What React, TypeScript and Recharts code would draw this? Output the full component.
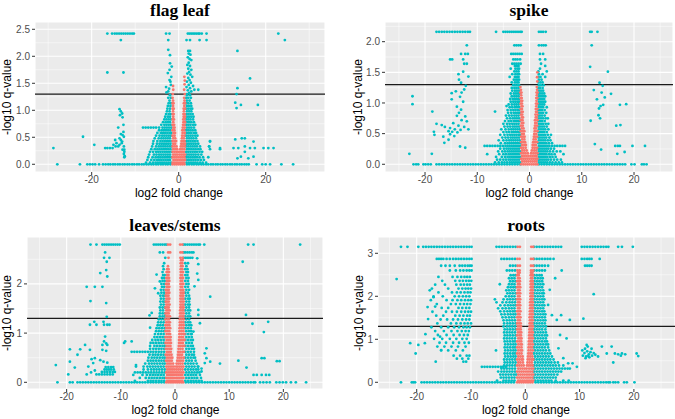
import { ScatterChart, Scatter, XAxis, YAxis, CartesianGrid, ReferenceLine } from 'recharts';

const TEAL = '#00BFC4';
const SALMON = '#F8766D';

// rows are [y, x1, x2, ...]; dots are [x, y]
type Row = number[];
type Dot = [number, number];

// ---------- flag leaf ----------
const flagTealRows: Row[] = [
  [0, -27.9, -22.7, -21.0, -20.4, -19.8, -19.2, -18.3, -17.4, -16.8, -16.2, -15.7, -15.1, -14.6, -14.0, -13.5, -12.9, -12.4, -11.8, -11.3, -10.7, -10.2, -9.6, -9.1, -8.5, -8.0, -7.4, -6.9, -6.3, -5.8, -5.2, -4.7, -4.1, -3.6, -3.0, -2.5, -1.9, 1.9, 2.4, 3.0, 3.5, 4.1, 4.6, 5.2, 5.7, 6.3, 6.8, 7.4, 7.9, 8.5, 9.0, 9.6, 10.1, 10.7, 11.2, 11.8, 12.3, 12.9, 13.4, 14.0, 14.5, 15.1, 15.6, 16.1, 17.9, 19.2, 20.0, 21.0, 23.6, 26.3],
  [2.42, -16.4, -15.3, -14.7, -14.2, -13.7, -13.2, -12.7, -12.2, -11.7, -11.2, -10.7, -10.3, -2.9, -2.1, 2.1, 2.5, 2.9, 3.3, 3.7, 4.1, 4.5, 4.8, 5.3, 6.4, 22.9],
  [2.30, -13.3, -2.4, 1.8, 2.6, 4.8, 6.4, 24.4],
  [1.70, -16.4, -12.7],
  [0.03, -7.5, -6.6, -5.9, -5.3, -4.8, -4.3, -3.8, -3.3, -2.8, -2.3, -1.8, 1.8, 2.3, 2.8, 3.3, 3.8, 4.3, 4.9, 5.5, 6.3],
  [0.08, -7.2, -6.3, -5.6, -5.0, -4.5, -4.0, -3.5, -3.0, -2.5, -2.0, 1.9, 2.4, 2.9, 3.4, 3.9, 4.5, 5.1, 5.8],
  [0.13, -7.0, -6.0, -5.3, -4.7, -4.2, -3.7, -3.2, -2.7, -2.2, -1.7, 1.7, 2.2, 2.7, 3.2, 3.7, 4.2, 4.8, 5.6, 6.8],
  [0.18, -6.8, -5.7, -5.1, -4.5, -4.0, -3.5, -3.0, -2.5, -2.0, 1.9, 2.4, 2.9, 3.4, 3.9, 4.5, 5.2],
  [0.23, -6.6, -5.9, -5.2, -4.7, -4.2, -3.7, -3.2, -2.7, -2.2, -1.7, 1.7, 2.2, 2.7, 3.2, 3.7, 4.2, 4.8, 5.4],
  [0.28, -6.3, -5.5, -4.9, -4.4, -3.9, -3.4, -2.9, -2.4, -1.9, 1.9, 2.4, 2.9, 3.4, 3.9, 4.5, 5.0, 7.2, 9.5],
  [0.33, -6.1, -5.2, -4.6, -4.1, -3.6, -3.1, -2.6, -2.1, -1.7, 1.7, 2.2, 2.7, 3.2, 3.7, 4.2, 4.9, 7.0],
  [0.38, -5.9, -5.0, -4.4, -3.9, -3.4, -2.9, -2.4, -1.9, 1.9, 2.4, 2.9, 3.4, 3.9, 4.5],
  [0.43, -5.8, -4.9, -4.2, -3.7, -3.2, -2.7, -2.2, -1.7, 1.7, 2.2, 2.7, 3.2, 3.7, 4.3, 7.2],
  [0.48, -5.5, -4.6, -4.0, -3.5, -3.0, -2.5, -2.0, 1.9, 2.4, 2.9, 3.4, 4.0],
  [0.53, -5.2, -4.4, -3.8, -3.3, -2.8, -2.3, -1.8, 1.7, 2.2, 2.7, 3.2, 3.8, 4.3],
  [0.58, -4.9, -4.1, -3.6, -3.1, -2.6, -2.1, -1.7, 1.9, 2.4, 2.9, 3.5, 4.0],
  [0.63, -4.5, -3.9, -3.4, -2.9, -2.4, -1.9, 1.7, 2.2, 2.7, 3.2, 3.8],
  [0.68, -8.2, -7.6, -7.0, -6.4, -5.8, -5.2, -4.5, -3.7, -3.2, -2.7, -2.2, -1.7, 1.9, 2.4, 2.9, 3.5],
  [0.73, -4.0, -3.3, -2.8, -2.3, -1.8, 1.7, 2.2, 2.7, 3.3, 3.8],
  [0.78, -3.6, -3.0, -2.5, -2.0, 1.9, 2.4, 2.9, 3.5],
  [0.83, -3.3, -2.8, -2.3, -1.8, 1.7, 2.2, 2.7, 3.3],
  [0.88, -3.1, -2.5, -2.0, 1.9, 2.4, 2.9, 3.4],
  [0.93, -2.9, -2.3, -1.8, 1.7, 2.2, 2.7, 3.2],
  [0.98, -2.7, -2.1, 1.9, 2.4, 2.9],
  [1.03, -2.6, -2.0, 1.7, 2.2, 2.7, 3.1],
  [1.08, -2.5, -1.9, 1.9, 2.4, 2.9],
  [1.13, -2.3, -1.8, 1.7, 2.2, 2.8],
  [1.18, -2.1, 1.9, 2.5],
  [1.23, -2.4, -1.8, 1.7, 2.2, 2.8],
  [1.28, -2.0, 1.9, 2.6],
];
const flagTealDots: Dot[] = [
  [-13.6, 1.02], [-13.3, 0.98], [-13.0, 0.94], [-13.5, 0.91], [-12.9, 0.87], [-12.7, 0.73], [-13.9, 0.68], [-12.7, 0.6],
  [-13.3, 0.56], [-12.9, 0.54], [-12.6, 0.51], [-13.6, 0.48], [-14.6, 0.45], [-13.3, 0.45], [-13.0, 0.42], [-14.3, 0.39],
  [-13.1, 0.39], [-13.6, 0.36], [-15.0, 0.36], [-12.6, 0.33], [-13.9, 0.33], [-14.5, 0.33], [-15.2, 0.3], [-15.8, 0.3],
  [-16.4, 0.3], [-16.9, 0.3], [-12.9, 0.27], [-12.5, 0.27], [-12.5, 0.23], [-12.6, 0.19], [-12.4, 0.15], [-12.5, 0.13],
  [-22.0, 0.51], [-28.8, 0.3], [-19.4, 0.36],
  [-2.4, 2.12], [-2.0, 2.02], [-2.0, 1.87], [-2.1, 1.75], [-1.6, 1.81], [-2.5, 1.69], [-1.7, 1.62], [-2.1, 1.56],
  [-1.9, 1.53], [-1.8, 1.47], [-2.9, 1.43], [-2.2, 1.4], [-2.4, 1.35], [-2.8, 1.33],
  [2.2, 2.1], [2.6, 2.1], [2.3, 2.05], [2.7, 2.03], [2.1, 1.98], [2.5, 1.95], [2.9, 1.93], [2.3, 1.88], [2.0, 1.84],
  [2.6, 1.82], [2.2, 1.77], [2.9, 1.75], [2.4, 1.71], [2.0, 1.68], [2.7, 1.66], [3.1, 1.62], [2.2, 1.6], [2.5, 1.56],
  [1.9, 1.53], [2.8, 1.51], [2.3, 1.47], [3.3, 1.45], [1.8, 1.43], [2.6, 1.41], [2.1, 1.37], [2.9, 1.35], [2.4, 1.32],
  [3.6, 1.38], [4.5, 1.38], [1.9, 1.3],
  [13.5, 2.1], [16.4, 1.59], [13.5, 1.41], [13.3, 1.3], [13.0, 1.14], [14.3, 1.1], [13.3, 1.04], [18.2, 1.1],
  [13.0, 0.46], [14.5, 0.48], [15.2, 0.48], [17.2, 0.42], [12.6, 0.3], [13.7, 0.3], [15.2, 0.33], [16.4, 0.3],
  [17.5, 0.3], [19.5, 0.3], [20.6, 0.3], [21.8, 0.3], [13.5, 0.11], [14.3, 0.14], [16.0, 0.11], [17.2, 0.14],
  [15.2, 0.23], [9.5, 0.3], [7.2, 0.42], [7.0, 0.33],
];
const flagRedRows: Row[] = [
  [0, -1.4, -0.95, -0.5, -0.05, 0.4, 0.85, 1.3],
  [0.03, -1.4, -1.0, -0.55, -0.1, 0.35, 0.8, 1.25],
  [0.08, -1.2, -0.75, -0.3, 0.15, 0.6, 1.05, 1.45],
  [0.13, -1.4, -0.95, -0.5, -0.05, 0.4, 0.85, 1.3],
  [0.18, -1.25, -0.8, -0.35, 0.15, 0.6, 1.05, 1.45],
  [0.23, -1.4, -0.95, -0.5, -0.1, 0.3, 0.75, 1.2],
  [0.28, -1.25, -0.8, -0.35, 0.35, 0.8, 1.3],
  [0.33, -1.4, -0.95, -0.5, 0.5, 0.95, 1.4],
  [0.38, -1.25, -0.8, 0.6, 1.05, 1.45],
  [0.43, -1.4, -0.95, -0.6, 0.65, 1.0, 1.35],
  [0.48, -1.25, -0.8, 0.75, 1.2],
  [0.53, -1.4, -0.95, 0.8, 1.3],
  [0.58, -1.2, -0.85, 0.9, 1.4],
  [0.63, -1.4, -1.0, 0.85, 1.25],
  [0.68, -1.25, -0.95, 0.95, 1.4],
  [0.73, -1.4, -1.05, 1.0, 1.35],
  [0.78, -1.25, 1.1, 1.45],
  [0.83, -1.4, -1.1, 1.05, 1.35],
  [0.88, -1.25, 1.15, 1.45],
  [0.93, -1.4, -1.15, 1.1, 1.4],
  [0.98, -1.3, 1.2],
  [1.03, -1.4, -1.15, 1.15, 1.45],
  [1.08, -1.3, 1.3],
  [1.13, -1.4, -1.2, 1.2, 1.45],
  [1.18, -1.3, 1.35],
  [1.23, -1.4, 1.25],
  [1.3, -1.35, 1.4],
];
const flagRedDots: Dot[] = [[-1.3, 1.45], [-1.25, 1.38], [1.3, 1.62], [1.4, 1.55], [1.35, 1.48], [1.25, 1.38]];

// ---------- spike ----------
const spikeTealRows: Row[] = [
  [0, -22.2, -21.7, -21.3, -20.3, -19.9, -19.4, -18.9, -17.8, -17.3, -16.8, -16.3, -15.8, -15.3, -14.8, -14.3, -13.8, -13.3, -12.8, -12.3, -11.8, -11.3, -10.8, -10.3, -9.8, -9.3, -8.8, -8.3, -7.8, -7.3, -6.8, -6.3, -5.8, -5.3, -4.8, -4.3, -3.8, -3.3, -2.8, -2.3, -1.8, 1.8, 2.3, 2.8, 3.3, 3.8, 4.3, 4.8, 5.3, 5.8, 6.3, 6.8, 7.3, 7.8, 8.3, 8.8, 9.3, 9.8, 10.3, 10.8, 11.3, 11.8, 12.3, 12.8, 13.3, 13.8, 14.3, 14.8, 15.3, 15.8, 16.3, 16.8, 17.3, 17.8, 18.3, 19.5, 20.1, 21.5, 21.9, 22.4],
  [2.16, -17.8, -17.3, -16.8, -16.3, -15.8, -15.3, -14.8, -14.3, -13.8, -13.3, -12.8, -12.3, -11.8, -11.4, -6.4, -5.0, -4.6, -4.2, -3.8, -3.4, -3.0, -2.6, -2.2, -1.8, -1.5, 1.8, 2.2, 2.6, 3.1, 11.6, 11.9, 13.0],
  [1.94, -12.0, -2.9, -2.5, -2.1, -1.7, 1.8, 2.3, 2.7, 3.1, 11.9],
  [1.8, -13.1, -12.3, -11.8, -3.5, -3.1, -2.7, -2.3, -1.9, -1.5, 2.0, 2.6],
  [1.71, -15.2, -14.8, -12.7, -3.1, -2.7, -2.3, -1.8, 2.0, 3.0],
  [1.64, -12.5, -12.0, -3.3, -2.9, -2.5, -2.1, -1.7, 2.2],
  [0.03, -6.6, -5.9, -5.3, -4.8, -4.3, -3.8, -3.4, -3.0, -2.6, -2.2, -1.8, 1.8, 2.2, 2.6, 3.0, 3.4, 3.9, 4.4, 5.0, 5.6, 6.2],
  [0.075, -6.2, -5.6, -5.0, -4.5, -4.0, -3.6, -3.2, -2.8, -2.4, -2.0, 1.7, 2.0, 2.4, 2.8, 3.2, 3.6, 4.1, 4.7, 5.3, 6.0],
  [0.12, -6.4, -5.3, -4.7, -4.2, -3.8, -3.4, -3.0, -2.6, -2.2, -1.8, 1.8, 2.2, 2.6, 3.0, 3.4, 3.9, 4.4, 5.0],
  [0.165, -8.1, -5.8, -5.0, -4.5, -4.0, -3.6, -3.2, -2.8, -2.4, -2.0, 1.7, 2.0, 2.4, 2.8, 3.2, 3.7, 4.2, 4.8, 6.5],
  [0.21, -6.0, -5.2, -4.7, -4.2, -3.8, -3.4, -3.0, -2.6, -2.2, -1.8, 1.8, 2.2, 2.6, 3.0, 3.4, 3.9, 4.5, 5.2, 5.9],
  [0.255, -5.6, -4.9, -4.4, -4.0, -3.6, -3.2, -2.8, -2.4, -2.0, 1.7, 2.0, 2.4, 2.8, 3.2, 3.6, 4.1, 4.7],
  [0.3, -8.6, -8.1, -7.6, -7.1, -6.6, -6.1, -5.6, -5.1, -4.6, -4.2, -3.8, -3.4, -3.0, -2.6, -2.2, -1.8, 1.8, 2.2, 2.6, 3.0, 3.4, 3.8, 4.3, 4.8, 5.3, 5.8, 6.3, 6.8],
  [0.345, -5.5, -4.7, -4.2, -3.8, -3.4, -3.0, -2.6, -2.2, -1.8, 1.7, 2.0, 2.4, 2.8, 3.2, 3.7, 4.3],
  [0.39, -5.9, -5.0, -4.4, -3.9, -3.5, -3.1, -2.7, -2.3, -1.9, 1.8, 2.2, 2.6, 3.0, 3.5, 4.0],
  [0.435, -5.2, -4.6, -4.1, -3.6, -3.2, -2.8, -2.4, -2.0, 1.7, 2.0, 2.4, 2.8, 3.2, 3.8],
  [0.48, -5.6, -4.8, -4.2, -3.7, -3.3, -2.9, -2.5, -2.1, -1.8, 1.8, 2.2, 2.6, 3.0, 3.5, 4.1],
  [0.525, -5.0, -4.4, -3.9, -3.4, -3.0, -2.6, -2.2, -1.9, 1.7, 2.0, 2.4, 2.8, 3.3],
  [0.57, -5.4, -4.6, -4.0, -3.5, -3.1, -2.7, -2.3, -1.9, 1.8, 2.2, 2.6, 3.0, 3.6],
  [0.615, -4.8, -4.2, -3.7, -3.2, -2.8, -2.4, -2.0, 1.7, 2.0, 2.4, 2.8, 3.3],
  [0.66, -5.0, -4.3, -3.8, -3.3, -2.9, -2.5, -2.1, 1.8, 2.2, 2.6, 3.1, 3.6],
  [0.705, -4.7, -4.0, -3.5, -3.0, -2.6, -2.2, -1.9, 1.7, 2.0, 2.4, 2.9],
  [0.75, -4.3, -3.7, -3.2, -2.8, -2.4, -2.0, 1.8, 2.2, 2.6, 3.1, 3.5],
  [0.795, -4.5, -3.9, -3.4, -2.9, -2.5, -2.1, 1.7, 2.0, 2.4, 2.9],
  [0.84, -4.1, -3.5, -3.0, -2.6, -2.2, -1.9, 1.8, 2.2, 2.6, 3.2],
  [0.885, -4.2, -3.6, -3.1, -2.7, -2.3, -2.0, 1.7, 2.0, 2.4, 2.9],
  [0.93, -3.8, -3.3, -2.8, -2.4, -2.0, 1.8, 2.2, 2.6, 3.3],
  [0.975, -4.0, -3.4, -2.9, -2.5, -2.1, 1.7, 2.0, 2.4, 2.8],
  [1.02, -3.6, -3.1, -2.7, -2.3, -2.0, 1.8, 2.2, 2.6, 3.0],
  [1.065, -3.7, -3.2, -2.8, -2.4, -2.0, 1.7, 2.0, 2.4, 2.8],
  [1.11, -3.4, -2.9, -2.5, -2.1, 1.8, 2.2, 2.6, 3.0],
  [1.155, -3.6, -3.0, -2.6, -2.2, -1.9, 1.7, 2.0, 2.4, 2.8],
  [1.2, -3.3, -2.8, -2.4, -2.0, 1.8, 2.2, 2.6],
  [1.245, -3.4, -2.9, -2.5, -2.1, 1.7, 2.0, 2.5],
  [1.29, -3.1, -2.7, -2.3, -2.0, 1.8, 2.2, 2.7],
  [1.335, -3.4, -2.8, -2.4, -2.1, 1.7, 2.1, 2.5],
  [1.38, -3.0, -2.6, -2.3, -2.0, 1.8, 2.3],
  [1.425, -3.8, -2.8, -2.4, -2.1, 1.7, 2.1, 3.0],
  [1.47, -3.3, -2.7, -2.3, -2.0, 1.8, 2.5],
  [1.515, -2.9, -2.5, -2.1, 1.7, 3.3],
  [1.56, -3.6, -2.7, -2.3, -2.0, 2.0],
  [1.605, -2.8, -2.4, -2.1, 3.0],
];
const spikeTealDots: Dot[] = [
  [-12.7, 1.51], [-13.6, 1.47], [-11.7, 1.43], [-13.5, 1.38], [-13.1, 1.33], [-12.2, 1.28], [-12.5, 1.22], [-14.1, 1.19],
  [-13.0, 1.17], [-14.9, 1.16], [-13.3, 1.1], [-14.9, 1.06], [-12.7, 1.02], [-13.9, 0.94], [-13.1, 0.89], [-13.5, 0.84],
  [-13.9, 0.79], [-12.3, 0.78], [-13.0, 0.72], [-12.0, 0.7], [-14.6, 0.67], [-13.6, 0.63], [-12.5, 0.61], [-15.2, 0.59],
  [-14.3, 0.57], [-13.2, 0.56], [-15.5, 0.54], [-14.8, 0.53], [-13.8, 0.52], [-15.2, 0.49], [-14.4, 0.46], [-16.2, 0.61],
  [-16.8, 0.64], [-17.8, 0.66], [-18.3, 0.53], [-18.2, 0.48], [-16.5, 0.45], [-15.5, 0.4], [-16.3, 0.35], [-13.3, 0.29],
  [-12.3, 0.27], [-11.7, 0.57], [-18.6, 0.86], [-22.4, 1.11], [-22.4, 0.98], [-23.0, 0.17], [-18.7, 0.17],
  [-6.6, 0.86], [-4.4, 0.95],
  [11.6, 1.59], [15.0, 1.51], [13.4, 1.33], [14.0, 1.28], [12.3, 1.21], [13.8, 1.17], [15.6, 1.15], [12.9, 1.06],
  [14.4, 1.09], [13.6, 0.95], [14.1, 0.97], [13.3, 0.91], [13.2, 0.8], [13.5, 0.75], [11.7, 0.71], [17.3, 0.97],
  [18.5, 0.98], [16.6, 0.63], [17.4, 0.64], [12.5, 0.33], [13.7, 0.24], [16.4, 0.3], [16.9, 0.3], [17.3, 0.3],
  [16.8, 0.17], [18.2, 0.2], [19.7, 0.3], [22.1, 0.3],
];
const spikeRedRows: Row[] = [
  [0, -1.6, -1.2, -0.8, -0.4, 0.0, 0.4, 0.8, 1.2, 1.5],
  [0.045, -1.4, -1.0, -0.6, -0.2, 0.2, 0.6, 1.0, 1.35],
  [0.09, -1.6, -1.2, -0.8, -0.4, 0.0, 0.4, 0.8, 1.2, 1.5],
  [0.135, -1.4, -1.0, -0.6, -0.2, 0.2, 0.6, 1.0, 1.35],
  [0.18, -1.6, -1.2, -0.8, -0.35, 0.3, 0.75, 1.15, 1.5],
  [0.225, -1.4, -1.0, -0.55, 0.45, 0.9, 1.3],
  [0.27, -1.6, -1.2, -0.75, 0.6, 1.0, 1.45],
  [0.315, -1.4, -1.0, -0.7, 0.6, 0.85, 1.2],
  [0.36, -1.6, -1.2, -0.85, 0.7, 1.05, 1.45],
  [0.405, -1.4, -1.0, 0.8, 1.2],
  [0.45, -1.6, -1.25, -0.95, 0.85, 1.1, 1.45],
  [0.495, -1.45, -1.1, 0.9, 1.3],
  [0.54, -1.65, -1.3, -1.0, 1.0, 1.5],
  [0.585, -1.5, -1.15, 0.95, 1.25],
  [0.63, -1.65, -1.3, 1.05, 1.45],
  [0.675, -1.5, -1.2, 1.1, 1.35],
  [0.72, -1.65, -1.35, 1.05, 1.5],
  [0.765, -1.5, -1.25, 1.2, 1.4],
  [0.81, -1.65, -1.4, 1.15, 1.5],
  [0.855, -1.55, -1.3, 1.25, 1.45],
  [0.9, -1.7, -1.45, 1.2, 1.5],
  [0.945, -1.55, -1.35, 1.3],
  [0.99, -1.7, -1.45, 1.25, 1.5],
  [1.035, -1.6, -1.4, 1.35],
  [1.08, -1.7, -1.5, 1.3, 1.5],
  [1.125, -1.6, 1.4],
  [1.17, -1.75, -1.55, 1.35, 1.55],
  [1.215, -1.65, 1.45],
  [1.26, -1.75, 1.4],
  [1.35, 1.5],
  [1.42, 1.45],
  [1.5, 1.5],
];

// ---------- leaves/stems ----------
const stemTealRows: Row[] = [
  [0, -21.7, -19.4, -18.9, -18.0, -17.5, -17.0, -16.5, -16.0, -15.5, -15.0, -14.5, -14.0, -13.5, -13.0, -12.5, -12.0, -11.5, -11.0, -10.5, -10.0, -9.5, -9.0, -8.5, -8.0, -7.5, -7.0, -6.5, -6.0, -5.5, -5.0, -4.5, -4.0, -3.5, -3.0, -2.5, -2.0, 2.0, 2.5, 3.0, 3.5, 4.0, 4.5, 5.0, 5.5, 6.0, 6.5, 7.0, 7.5, 8.0, 8.5, 9.0, 9.5, 10.0, 10.5, 11.0, 11.5, 12.0, 12.5, 13.0, 13.5, 14.0, 14.5, 14.8, 15.7, 16.3, 16.9, 17.5, 18.7, 19.3, 19.9, 20.5, 21.4, 22.3, 24.2],
  [2.8, -15.6, -14.5, -13.4, -13.0, -12.6, -12.2, -11.8, -11.4, -11.0, -10.6, -10.2, -3.9, -3.5, -3.1, -2.7, -2.3, -1.9, -1.6, 1.6, 1.9, 2.3, 2.7, 3.1, 3.5, 3.9, 4.3, 4.6, 5.4, 13.5, 14.5, 23.1],
  [2.64, -12.9, -2.8, -2.2, 1.6, 1.9, 2.3, 2.7, 3.1, 3.4],
  [2.53, -13.1, -12.1, -1.8, 1.6, 2.0, 2.4, 2.8, 3.2],
  [0.03, -7.4, -5.0, -4.5, -4.0, -3.5, -3.0, -2.5, -2.0, 1.9, 2.4, 2.9, 3.4, 3.9, 4.4, 4.9],
  [0.09, -6.5, -5.4, -4.8, -4.3, -3.8, -3.3, -2.8, -2.3, -1.9, 2.1, 2.6, 3.1, 3.6, 4.1, 4.8],
  [0.15, -7.7, -6.0, -5.2, -4.6, -4.1, -3.6, -3.1, -2.6, -2.1, 1.9, 2.4, 2.9, 3.4, 3.9, 4.6],
  [0.2, -7.4, -6.9, -6.4, -5.9, -5.4, -4.9, -4.4, -3.9, -3.4, -2.9, -2.4, -1.9, 2.1, 2.6, 3.1, 3.6, 4.1, 4.5],
  [0.26, -5.8, -5.0, -4.4, -3.9, -3.4, -2.9, -2.4, -1.9, 1.9, 2.4, 2.9, 3.4, 3.9, 4.3],
  [0.32, -7.2, -5.8, -5.1, -4.6, -4.1, -3.6, -3.1, -2.6, -2.1, 2.1, 2.6, 3.1, 3.6, 4.2],
  [0.38, -5.5, -4.8, -4.3, -3.8, -3.3, -2.8, -2.3, -1.9, 1.9, 2.4, 2.9, 3.4, 4.0],
  [0.44, -5.0, -4.5, -4.0, -3.5, -3.0, -2.5, -2.0, 2.1, 2.6, 3.1, 3.8],
  [0.5, -4.9, -4.3, -3.8, -3.3, -2.8, -2.3, -1.9, 1.9, 2.4, 2.9, 3.4, 3.7],
  [0.56, -4.7, -4.1, -3.6, -3.1, -2.6, -2.1, 2.1, 2.6, 3.1, 3.5],
  [0.62, -8.0, -7.5, -7.0, -6.5, -6.0, -5.5, -5.0, -4.5, -4.0, -3.5, -3.0, -2.5, -2.0, 1.9, 2.4, 2.9, 3.5],
  [0.68, -4.6, -4.0, -3.5, -3.0, -2.5, -2.0, 2.1, 2.6, 3.1, 3.5],
  [0.74, -4.6, -3.8, -3.3, -2.8, -2.3, -1.9, 1.9, 2.4, 2.9, 3.3],
  [0.8, -4.5, -4.0, -3.5, -3.0, -2.5, -2.0, 2.1, 2.6, 3.1],
  [0.86, -4.2, -3.6, -3.1, -2.6, -2.1, 1.9, 2.4, 2.9, 3.3],
  [0.92, -3.8, -3.3, -2.8, -2.3, -1.9, 2.1, 2.6, 3.1],
  [0.98, -3.7, -3.1, -2.6, -2.1, 1.9, 2.4, 2.9, 3.1],
  [1.04, -3.5, -3.0, -2.5, -2.0, 2.1, 2.6, 3.0],
  [1.1, -3.4, -2.9, -2.4, -1.9, 1.9, 2.4, 2.9],
  [1.16, -3.2, -2.7, -2.2, 2.1, 2.6, 3.0],
  [1.22, -3.1, -2.6, -2.1, 1.9, 2.4, 2.8],
  [1.28, -3.0, -2.5, -2.0, 2.1, 2.6],
  [1.34, -2.8, -2.3, -1.9, 1.9, 2.4, 2.8],
  [1.4, -2.8, -2.3, -1.9, 2.1, 2.6],
  [1.46, -2.7, -2.2, 1.9, 2.4, 2.8],
  [1.52, -2.8, -2.3, -1.9, 2.1, 2.6],
  [1.58, -2.6, -2.1, 1.9, 2.4, 2.7],
  [1.64, -2.7, -2.2, -1.9, 2.1, 2.6],
  [1.7, -2.6, -2.1, 1.9, 2.4, 2.7],
  [1.76, -2.7, -2.2, -1.9, 2.1, 2.6],
  [1.82, -2.5, -2.0, 1.9, 2.4],
  [1.88, -2.6, -2.1, 2.1, 2.6],
  [1.94, -2.4, -2.0, 1.9, 2.4],
  [2.0, -2.5, -2.0, 2.1, 2.5],
  [2.06, -2.3, -1.9, 1.9, 2.4],
  [2.12, -2.4, -2.0, 2.1, 2.5],
  [2.18, -2.2, -1.9, 1.9, 2.3],
  [2.24, -2.3, 2.1, 2.4],
  [2.3, -2.1, 1.9, 2.3],
  [2.36, -2.2, 2.1],
  [2.42, -2.0, 1.9, 2.4],
];
const stemTealDots: Dot[] = [
  [-12.6, 2.45], [-12.7, 2.28], [-13.8, 2.22], [-12.5, 2.15], [-13.4, 1.94], [-16.3, 1.94], [-14.8, 1.94], [-15.6, 1.65],
  [-12.7, 1.61], [-12.6, 1.33], [-15.7, 1.17], [-14.9, 1.23], [-14.5, 1.17], [-13.2, 1.23], [-13.1, 1.17], [-12.5, 1.17],
  [-12.1, 1.17], [-12.9, 0.93], [-13.1, 0.83], [-12.7, 0.79], [-13.4, 0.76], [-12.5, 0.76], [-16.6, 0.76], [-15.7, 0.66],
  [-13.4, 0.66], [-12.7, 0.64], [-14.8, 0.49], [-15.4, 0.47], [-13.8, 0.45], [-13.2, 0.42], [-12.5, 0.4], [-15.1, 0.39],
  [-17.5, 0.67], [-19.4, 0.67], [-18.0, 0.56], [-19.4, 0.42], [-18.5, 0.3], [-19.7, 0.16], [-22.0, 0.35], [-16.3, 0.16],
  [-16.0, 0.32], [-14.8, 0.24], [-15.5, 0.2],
  [-14.5, 0.16], [-14.0, 0.16], [-13.5, 0.16], [-13.0, 0.16], [-12.5, 0.16], [-12.0, 0.16], [-11.5, 0.16], [-13.5, 0.21],
  [-13.0, 0.21], [-12.5, 0.21], [-12.0, 0.21], [-11.5, 0.21], [-11.1, 0.21], [-13.0, 0.26], [-12.6, 0.26], [-12.2, 0.26],
  [-11.8, 0.26], [-11.3, 0.26], [-12.8, 0.31], [-12.3, 0.31], [-11.8, 0.31], [-11.4, 0.31],
  [-9.2, 0.83], [-8.0, 0.83], [-9.4, 0.8], [-7.2, 0.35], [-4.7, 1.36], [-3.4, 2.19], [-2.8, 2.05], [-3.7, 1.91],
  [-3.1, 1.81], [-4.3, 1.41], [-4.6, 1.11],
  [4.1, 2.52], [4.3, 2.4], [4.1, 2.21], [4.3, 2.08], [3.6, 1.95], [6.5, 1.74], [4.3, 1.47], [4.3, 1.37], [4.6, 1.2],
  [3.4, 1.03], [5.5, 0.59], [5.8, 0.49], [6.5, 0.42], [8.3, 0.38], [4.9, 0.22], [4.3, 0.32], [5.8, 0.69], [5.5, 0.39],
  [4.9, 0.28],
  [12.5, 2.45], [13.1, 1.37], [14.3, 1.19], [17.2, 1.23], [16.4, 1.02], [11.7, 0.44], [13.2, 0.3], [16.0, 0.49],
  [16.5, 0.49], [18.8, 0.43], [19.3, 0.43], [14.5, 0.15], [15.1, 0.15], [16.0, 0.15], [16.8, 0.15], [17.4, 0.15],
];
const stemRedRows: Row[] = [
  [2.8, -1.3, -0.9, 0.95, 1.35],
  [2.64, -1.25, -0.9, 1.0, 1.35],
  [2.53, -1.2, 1.0, 1.4],
  [0, -1.6, -1.25, -0.9, -0.55, -0.2, 0.15, 0.5, 0.85, 1.2, 1.5],
  [0.03, -1.45, -1.1, -0.75, -0.4, -0.05, 0.3, 0.65, 1.0, 1.35],
  [0.09, -1.6, -1.25, -0.9, -0.55, -0.2, 0.15, 0.5, 0.85, 1.2, 1.55],
  [0.15, -1.45, -1.1, -0.75, -0.4, -0.05, 0.3, 0.65, 1.0, 1.35],
  [0.2, -1.6, -1.25, -0.9, -0.55, -0.2, 0.15, 0.5, 0.85, 1.2, 1.55],
  [0.26, -1.45, -1.1, -0.75, -0.4, -0.05, 0.3, 0.65, 1.0, 1.4],
  [0.32, -1.6, -1.25, -0.9, -0.55, -0.2, 0.2, 0.5, 0.85, 1.2, 1.55],
  [0.38, -1.45, -1.1, -0.75, -0.35, 0.3, 0.65, 1.0, 1.4],
  [0.44, -1.65, -1.3, -0.95, -0.6, 0.4, 0.75, 1.1, 1.5],
  [0.5, -1.5, -1.15, -0.8, -0.5, 0.5, 0.85, 1.2, 1.6],
  [0.56, -1.7, -1.35, -1.0, -0.65, 0.55, 0.9, 1.3],
  [0.62, -1.5, -1.15, -0.8, 0.6, 0.95, 1.35, 1.65],
  [0.68, -1.7, -1.35, -1.0, -0.7, 0.65, 1.0, 1.4],
  [0.74, -1.55, -1.2, -0.85, 0.7, 1.05, 1.4, 1.7],
  [0.8, -1.75, -1.4, -1.05, -0.75, 0.75, 1.1, 1.45],
  [0.86, -1.55, -1.2, -0.85, 0.75, 1.1, 1.45, 1.75],
  [0.92, -1.75, -1.4, -1.05, -0.8, 0.8, 1.15, 1.5],
  [0.98, -1.55, -1.2, -0.9, 0.8, 1.15, 1.5, 1.75],
  [1.04, -1.75, -1.4, -1.05, 0.85, 1.2, 1.55],
  [1.1, -1.6, -1.25, -0.9, 0.85, 1.2, 1.55],
  [1.16, -1.75, -1.4, -1.05, 0.9, 1.25, 1.6],
  [1.22, -1.6, -1.25, -0.95, 0.9, 1.25, 1.55],
  [1.28, -1.75, -1.4, -1.1, 0.9, 1.25, 1.6],
  [1.34, -1.6, -1.3, -0.95, 0.95, 1.3, 1.55],
  [1.4, -1.75, -1.45, -1.15, 0.95, 1.25, 1.6],
  [1.46, -1.6, -1.3, -1.0, 0.95, 1.3, 1.55],
  [1.52, -1.75, -1.45, -1.15, 1.0, 1.3, 1.6],
  [1.58, -1.6, -1.3, -1.0, 1.0, 1.3, 1.55],
  [1.64, -1.7, -1.45, -1.15, 1.0, 1.3, 1.6],
  [1.7, -1.6, -1.3, -1.05, 1.0, 1.3, 1.55],
  [1.76, -1.7, -1.45, -1.2, 1.0, 1.3, 1.55],
  [1.82, -1.6, -1.3, -1.05, 1.05, 1.35, 1.6],
  [1.88, -1.7, -1.4, -1.15, 1.0, 1.3, 1.55],
  [1.94, -1.55, -1.3, -1.05, 1.05, 1.35],
  [2.0, -1.65, -1.4, -1.15, 1.0, 1.3, 1.55],
  [2.06, -1.5, -1.25, -1.05, 1.05, 1.35],
  [2.12, -1.6, -1.35, -1.1, 1.0, 1.3, 1.5],
  [2.18, -1.45, -1.2, 1.05, 1.35],
  [2.24, -1.55, -1.3, -1.1, 1.05, 1.3, 1.5],
  [2.3, -1.45, -1.2, 1.05, 1.35],
  [2.36, -1.3, 1.1, 1.4],
  [2.42, 1.05, 1.35],
  [2.48, 1.1, 1.4],
];

// ---------- roots ----------
const rootTealRows: Row[] = [
  [0, -22.9, -20.9, -20.6, -20.3, -19.1, -18.6, -18.1, -17.6, -17.1, -16.6, -16.1, -15.6, -15.1, -14.6, -14.1, -13.6, -13.1, -12.6, -12.1, -11.6, -11.1, -10.6, -10.1, -9.6, -9.1, -8.6, -8.1, -7.6, -7.1, -6.6, -6.1, -5.6, -5.1, -4.6, -4.1, -3.6, -3.1, -2.6, -2.1, 1.9, 2.4, 2.9, 3.4, 3.9, 4.4, 4.9, 5.4, 5.9, 6.4, 6.9, 7.4, 7.9, 8.4, 8.9, 9.4, 9.9, 10.4, 10.9, 11.4, 11.9, 12.4, 12.9, 13.4, 13.9, 14.4, 14.9, 15.3, 15.6, 16.2, 16.6, 17.1, 18.2, 18.7, 20.1],
  [3.15, -22.9, -21.7, -19.7, -18.8, -18.3, -17.8, -17.3, -16.8, -16.3, -15.8, -15.3, -14.8, -14.3, -13.8, -13.3, -12.8, -12.3, -11.8, -11.3, -10.8, -10.3, -9.9, -5.3, -4.8, -4.3, -3.8, -3.3, -2.8, -2.3, -1.8, 1.6, 2.1, 2.6, 3.1, 3.6, 4.1, 4.6, 5.1, 5.6, 6.1, 6.6, 10.4, 10.9, 11.4, 11.9, 12.4, 12.9, 13.4, 13.9, 14.4, 14.9, 15.3, 17.1, 17.8, 19.8],
  [2.87, -16.3, -15.9, -15.5, -15.1, -14.5, -13.9, -13.3, -12.8, -12.3, -11.8, -11.3, -10.8, -10.3, -9.9, -4.4, -3.9, -3.4, -2.9, -2.4, -1.9, 1.6, 2.1, 2.6, 3.1, 3.6, 4.1, 4.6, 5.2, 10.4, 10.9, 11.4, 11.8, 12.2, 13.7],
  [2.71, -15.5, -14.7, -13.9, -13.0, -12.1, -11.6, -11.1, -10.6, -10.2, -9.9, -2.8, -2.3, -1.8, 1.6, 2.1, 2.6, 3.1, 3.6, 4.2, 11.0, 11.4, 11.8, 12.2],
  [2.6, -13.9, -12.8, -12.0, -11.4, -10.8, -10.3, -9.9, -3.4, -2.9, -2.4, -1.9, 1.6, 2.1, 2.6, 3.1, 3.6, 6.7],
  [0.04, -5.2, -4.0, -3.5, -3.0, -2.5, -2.0, 1.8, 2.3, 2.8, 3.3, 3.8, 4.3, 4.8, 5.6, 7.0, 8.0],
  [0.11, -4.5, -4.0, -3.5, -3.0, -2.5, -2.0, 1.6, 2.1, 2.6, 3.1, 3.6, 4.1, 4.6, 5.1, 5.6],
  [0.18, -4.6, -4.1, -3.6, -3.1, -2.6, -2.1, -1.7, 1.8, 2.3, 2.8, 3.3, 3.8, 4.3, 4.8, 5.3, 5.9],
  [0.25, -5.0, -4.4, -3.9, -3.4, -2.9, -2.4, -1.9, 1.6, 2.1, 2.6, 3.1, 3.6, 4.1, 4.6, 5.1, 5.6, 6.1, 6.6],
  [0.32, -4.4, -3.9, -3.4, -2.9, -2.4, -1.9, 1.8, 2.3, 2.8, 3.3, 3.8, 4.3, 4.8, 5.3, 5.8, 6.3, 6.8, 7.3, 7.8, 8.2],
  [0.36, -8.0, -7.5, -7.0, -6.5, -6.0, -5.5, -5.0, -4.5, -4.1, -3.6],
  [0.39, -3.9, -3.4, -2.9, -2.4, -1.9, 1.6, 2.1, 2.6, 3.1, 3.6, 4.1, 4.6, 5.1, 5.6, 6.2, 7.0],
  [0.46, -3.8, -3.3, -2.8, -2.3, -1.8, 1.8, 2.3, 2.8, 3.3, 3.8, 4.3, 4.8, 5.4, 6.0],
  [0.53, -3.9, -3.4, -2.9, -2.4, -1.9, 1.6, 2.1, 2.6, 3.1, 3.6, 4.1, 4.6, 5.2],
  [0.6, -3.7, -3.2, -2.7, -2.2, -1.8, 1.8, 2.3, 2.8, 3.3, 3.8, 4.3, 4.9],
  [0.67, -3.8, -3.3, -2.8, -2.3, -1.9, 1.6, 2.1, 2.6, 3.1, 3.6, 4.1, 4.6],
  [0.74, -5.4, -3.7, -3.2, -2.7, -2.2, -1.8, 1.8, 2.3, 2.8, 3.3, 3.8, 4.4],
  [0.81, -3.8, -3.3, -2.8, -2.3, -1.9, 1.6, 2.1, 2.6, 3.1, 3.6, 4.2],
  [0.88, -3.7, -3.2, -2.7, -2.2, -1.8, 1.8, 2.3, 2.8, 3.3, 3.8, 4.2],
  [0.95, -3.8, -3.3, -2.8, -2.3, -1.9, 1.6, 2.1, 2.6, 3.1, 3.6, 4.0],
  [1.02, -3.9, -3.4, -2.9, -2.4, -1.9, 1.8, 2.3, 2.8, 3.3, 3.8],
  [1.09, -3.8, -3.3, -2.8, -2.3, -1.8, 1.6, 2.1, 2.6, 3.1, 3.6, 4.0],
  [1.16, -3.9, -3.4, -2.9, -2.4, -1.9, 1.8, 2.3, 2.8, 3.3, 3.8],
  [1.23, -3.8, -3.3, -2.8, -2.3, -1.8, 1.6, 2.1, 2.6, 3.1, 3.7],
  [1.3, -4.0, -3.4, -2.9, -2.4, -1.9, 1.8, 2.3, 2.8, 3.3, 3.8],
  [1.37, -3.9, -3.3, -2.8, -2.3, -1.8, 1.6, 2.1, 2.6, 3.1, 3.6],
  [1.44, -4.0, -3.4, -2.9, -2.4, -1.9, 1.8, 2.3, 2.8, 3.3, 3.7],
  [1.51, -4.2, -3.6, -3.0, -2.5, -2.0, 1.6, 2.1, 2.6, 3.1, 3.6],
  [1.58, -4.4, -3.8, -3.2, -2.7, -2.2, -1.8, 1.8, 2.3, 2.8, 3.3, 3.7],
  [1.65, -4.6, -3.9, -3.3, -2.8, -2.3, -1.9, 1.6, 2.1, 2.6, 3.1, 3.5],
  [1.72, -5.0, -4.2, -3.6, -3.0, -2.5, -2.0, 1.8, 2.3, 2.8, 3.3],
  [1.79, -4.6, -3.8, -3.2, -2.7, -2.2, -1.8, 1.6, 2.1, 2.6, 3.1, 3.5],
  [1.86, -5.3, -4.2, -3.5, -2.9, -2.4, -1.9, 1.8, 2.3, 2.8, 3.3],
  [1.93, -5.6, -4.0, -3.3, -2.8, -2.3, -1.8, 1.6, 2.1, 2.6, 3.1, 3.5],
  [2.0, -3.6, -3.0, -2.5, -2.0, 1.8, 2.3, 2.8, 3.3],
  [2.07, -3.3, -2.8, -2.3, -1.8, 1.6, 2.1, 2.6, 3.1, 3.4],
  [2.14, -3.5, -3.0, -2.5, -2.0, 1.8, 2.3, 2.8, 3.3],
  [2.21, -3.2, -2.7, -2.2, -1.8, 1.6, 2.1, 2.6, 3.1],
  [2.28, -4.7, -3.0, -2.5, -2.0, 1.8, 2.3, 2.8, 3.3],
  [2.35, -2.8, -2.3, -1.8, 1.6, 2.1, 2.6, 3.1],
  [2.42, -3.0, -2.5, -2.0, 1.8, 2.3, 2.8, 3.2],
  [2.49, -2.7, -2.2, -1.8, 1.6, 2.1, 2.6, 3.0],
  // left cluster around -17 .. -10, denser toward -10
  [2.45, -16.0, -13.4, -12.5, -11.8, -11.2, -10.7, -10.2],
  [2.36, -15.3, -12.9, -12.1, -11.5, -10.9, -10.4, -9.95],
  [2.27, -16.6, -14.8, -12.7, -11.9, -11.3, -10.7, -10.2],
  [2.18, -17.2, -14.2, -12.3, -11.6, -11.0, -10.5, -10.0],
  [2.09, -16.0, -13.5, -12.6, -11.9, -11.2, -10.6, -10.1],
  [2.0, -16.9, -15.2, -13.0, -12.2, -11.5, -10.9, -10.3],
  [1.91, -17.4, -14.5, -13.4, -12.5, -11.8, -11.1, -10.5, -10.0],
  [1.82, -16.3, -13.7, -12.8, -12.0, -11.3, -10.7, -10.1],
  [1.73, -15.4, -14.2, -12.3, -11.6, -10.9, -10.3],
  [1.64, -17.1, -14.6, -13.5, -12.6, -11.8, -11.1, -10.5, -10.0],
  [1.55, -16.4, -15.1, -12.9, -12.1, -11.4, -10.7, -10.2],
  [1.46, -15.6, -14.4, -13.3, -12.4, -11.6, -10.9, -10.3],
  [1.37, -16.2, -13.7, -12.7, -11.9, -11.2, -10.6, -10.0],
  [1.28, -17.3, -15.5, -14.2, -13.1, -12.2, -11.4, -10.8, -10.2],
  [1.19, -16.6, -15.0, -13.6, -12.5, -11.7, -11.0, -10.4],
  [1.1, -16.1, -14.5, -13.2, -12.1, -11.3, -10.6],
  [1.01, -16.8, -15.3, -13.9, -12.7, -11.6, -10.8],
  [0.92, -15.8, -14.6, -13.3, -12.2, -11.2, -10.4],
  [0.83, -16.2, -14.9, -13.6, -12.4, -11.0],
  [0.74, -15.5, -14.2, -12.8, -11.5],
  [0.62, -13.2, -12.0, -10.8, -10.3],
  [0.55, -12.6, -11.6, -10.5],
  [0.48, -16.5, -11.4, -10.9],
];
const rootTealDots: Dot[] = [
  [-23.7, 2.4], [-21.2, 0.91], [-19.7, 0.87], [-18.5, 0.91], [-18.4, 1.12], [-20.2, 0.67], [-17.6, 2.14], [-18.0, 1.75],
  [-17.9, 1.47], [-16.9, 1.98], [-16.6, 1.76], [-15.7, 1.06], [-15.5, 0.75],
  [5.5, 2.42], [4.5, 2.15], [4.2, 1.8], [4.9, 1.56], [5.8, 1.45], [6.4, 1.1], [7.6, 1.02], [6.1, 0.79], [7.0, 0.56],
  [7.9, 0.44], [8.7, 0.44], [9.5, 0.36], [8.2, 1.45], [6.6, 1.56], [12.6, 2.05], [10.7, 1.48],
  [10.6, 0.62], [10.9, 0.68], [11.2, 0.6], [11.4, 0.72], [11.0, 0.78], [11.7, 0.65], [12.0, 0.7], [11.5, 0.83],
  [12.3, 0.62], [12.6, 0.68], [11.1, 0.56], [10.5, 0.74], [11.8, 0.58], [12.9, 0.64], [13.4, 0.6], [11.3, 0.87],
  [12.2, 0.78], [14.1, 0.83], [15.9, 0.83], [15.0, 0.67], [16.5, 0.67], [17.1, 0.65], [17.6, 0.62], [17.8, 0.67],
  [18.4, 0.65], [16.2, 0.46], [20.5, 0.67], [20.8, 0.61], [11.6, 0.61],
];
const rootRedRows: Row[] = [
  [3.15, -1.4, -1.0, 1.1, 1.45],
  [2.87, -1.45, -1.05, 1.05, 1.45],
  [2.71, -1.4, -1.0, 1.05, 1.45],
  [2.6, -1.45, -1.05, 1.05, 1.45],
  [0, -1.5, -1.1, -0.7, -0.3, 0.1, 0.5, 0.9, 1.3],
  [0.04, -1.3, -0.9, -0.5, -0.1, 0.3, 0.7, 1.1, 1.45],
  [0.11, -1.5, -1.1, -0.7, -0.3, 0.1, 0.5, 0.9, 1.3],
  [0.18, -1.3, -0.9, -0.5, -0.1, 0.3, 0.7, 1.1, 1.45],
  [0.25, -1.5, -1.1, -0.7, -0.3, 0.1, 0.5, 0.9, 1.3],
  [0.32, -1.3, -0.9, -0.5, -0.1, 0.25, 0.7, 1.1, 1.45],
  [0.39, -1.5, -1.1, -0.7, -0.3, 0.3, 0.65, 1.0, 1.35],
  [0.46, -1.3, -0.9, -0.45, 0.4, 0.8, 1.2],
  [0.53, -1.5, -1.1, -0.7, -0.45, 0.45, 0.8, 1.15, 1.45],
  [0.6, -1.3, -0.9, -0.5, 0.5, 0.9, 1.3],
  [0.67, -1.5, -1.1, -0.7, 0.55, 0.9, 1.2],
  [0.74, -1.3, -0.9, -0.6, 0.6, 1.0, 1.4],
  [0.81, -1.5, -1.1, -0.7, 0.6, 0.95, 1.25],
  [0.88, -1.3, -0.9, -0.65, 0.65, 1.0, 1.4],
  [0.95, -1.5, -1.1, -0.75, 0.65, 0.95, 1.25],
  [1.02, -1.3, -0.95, -0.7, 0.7, 1.05, 1.4],
  [1.09, -1.5, -1.1, -0.8, 0.7, 1.0, 1.3],
  [1.16, -1.35, -1.0, -0.75, 0.75, 1.1, 1.4],
  [1.23, -1.5, -1.15, -0.85, 0.75, 1.05, 1.3],
  [1.3, -1.35, -1.0, -0.8, 0.8, 1.1, 1.4],
  [1.37, -1.5, -1.15, -0.85, 0.8, 1.05, 1.3],
  [1.44, -1.35, -1.0, 0.85, 1.15, 1.4],
  [1.51, -1.5, -1.2, -0.9, 0.8, 1.1, 1.3],
  [1.58, -1.35, -1.05, 0.85, 1.15, 1.4],
  [1.65, -1.5, -1.2, -0.9, 0.85, 1.1, 1.35],
  [1.72, -1.35, -1.05, 0.9, 1.2, 1.4],
  [1.79, -1.5, -1.2, -0.95, 0.9, 1.15, 1.35],
  [1.86, -1.35, -1.05, 0.9, 1.2, 1.4],
  [1.93, -1.5, -1.2, -0.95, 0.95, 1.15, 1.35],
  [2.0, -1.35, -1.05, 0.95, 1.2, 1.4],
  [2.07, -1.5, -1.2, -0.95, 0.95, 1.2, 1.35],
  [2.14, -1.35, -1.05, 1.0, 1.25, 1.4],
  [2.21, -1.5, -1.2, -0.95, 1.0, 1.2, 1.35],
  [2.28, -1.35, -1.05, 1.0, 1.25, 1.4],
  [2.35, -1.5, -1.2, -1.0, 1.0, 1.2, 1.35],
  [2.42, -1.35, -1.05, 1.05, 1.3],
  [2.49, -1.5, -1.2, 1.0, 1.25, 1.4],
  [2.55, -1.35, -1.05, 1.05, 1.3],
];

const toPoints = (rows: Row[], dots: Dot[] = []) =>
  rows
    .flatMap(([y, ...xs]) => xs.map((x) => ({ x, y })))
    .concat(dots.map(([x, y]) => ({ x, y })));

const dot = (fill: string) => (p: any) => <circle cx={p.cx} cy={p.cy} r={1.4} fill={fill} />;

const fmt1 = (v: number) => v.toFixed(1);
const fmt0 = (v: number) => String(v);

const panels = [
  {
    title: 'flag leaf', left: 0, top: 0, width: 335, height: 205,
    margin: { top: 22, right: 10, bottom: 0, left: 0 }, yw: 35, xh: 33,
    xDomain: [-33.03, 33.63], yDomain: [-0.143, 2.635],
    xTicks: [-20, 0, 20], xMinor: [-30, -10, 10, 30],
    yTicks: [0, 0.5, 1, 1.5, 2, 2.5], yMinor: [0.25, 0.75, 1.25, 1.75, 2.25], yFmt: fmt1,
    teal: toPoints(flagTealRows, flagTealDots), red: toPoints(flagRedRows, flagRedDots),
    tx: 180, ty: 15.5, xlx: 179, xly: 197, ylx: 10.5, yly: 97,
  },
  {
    title: 'spike', left: 335, top: 0, width: 340, height: 205,
    margin: { top: 22, right: 2, bottom: 0, left: 0 }, yw: 50, xh: 33,
    xDomain: [-27.66, 27.46], yDomain: [-0.126, 2.321],
    xTicks: [-20, -10, 0, 10, 20], xMinor: [-25, -15, -5, 5, 15, 25],
    yTicks: [0, 0.5, 1, 1.5, 2], yMinor: [0.25, 0.75, 1.25, 1.75, 2.25], yFmt: fmt1,
    teal: toPoints(spikeTealRows, spikeTealDots), red: toPoints(spikeRedRows),
    tx: 529, ty: 15.5, xlx: 529.5, xly: 197, ylx: 361.5, yly: 97,
  },
  {
    title: 'leaves/stems', left: 0, top: 210, width: 335, height: 209,
    margin: { top: 27, right: 12, bottom: 0, left: 0 }, yw: 27, xh: 30,
    xDomain: [-27.32, 27.32], yDomain: [-0.136, 2.953],
    xTicks: [-20, -10, 0, 10, 20], xMinor: [-25, -15, -5, 5, 15, 25],
    yTicks: [0, 1, 2], yMinor: [0.5, 1.5, 2.5], yFmt: fmt0,
    teal: toPoints(stemTealRows, stemTealDots), red: toPoints(stemRedRows),
    tx: 175, ty: 230.5, xlx: 175.5, xly: 414, ylx: 10.5, yly: 313,
  },
  {
    title: 'roots', left: 335, top: 210, width: 340, height: 209,
    margin: { top: 27, right: 0, bottom: 0, left: 0 }, yw: 43, xh: 30,
    xDomain: [-27.13, 27.57], yDomain: [-0.156, 3.379],
    xTicks: [-20, -10, 0, 10, 20], xMinor: [-25, -15, -5, 5, 15, 25],
    yTicks: [0, 1, 2, 3], yMinor: [0.5, 1.5, 2.5], yFmt: fmt0,
    teal: toPoints(rootTealRows, rootTealDots), red: toPoints(rootRedRows),
    tx: 526, ty: 230.5, xlx: 526, xly: 414, ylx: 363, yly: 313,
  },
];

const tickStyle = { fill: '#4D4D4D', fontSize: 10, fontFamily: 'Liberation Sans, Arial, sans-serif' };

function Panel({ p }: { p: (typeof panels)[number] }) {
  return (
    <div style={{ position: 'absolute', left: p.left, top: p.top }}>
      <ScatterChart width={p.width} height={p.height} margin={p.margin}>
        <CartesianGrid fill="#EBEBEB" stroke="#FFFFFF" strokeWidth={1.1} />
        {p.xMinor.map((v) => (
          <ReferenceLine key={'mx' + v} x={v} stroke="#FFFFFF" strokeWidth={0.5} />
        ))}
        {p.yMinor.map((v) => (
          <ReferenceLine key={'my' + v} y={v} stroke="#FFFFFF" strokeWidth={0.5} />
        ))}
        <XAxis
          type="number"
          dataKey="x"
          domain={p.xDomain}
          ticks={p.xTicks}
          interval={0}
          allowDataOverflow
          axisLine={false}
          tickLine={{ stroke: '#333333' }}
          tickSize={3}
          tickMargin={1}
          height={p.xh}
          tick={tickStyle}
        />
        <YAxis
          type="number"
          dataKey="y"
          domain={p.yDomain}
          ticks={p.yTicks}
          interval={0}
          allowDataOverflow
          axisLine={false}
          tickLine={{ stroke: '#333333' }}
          tickSize={3}
          tickMargin={2}
          width={p.yw}
          tick={tickStyle}
          tickFormatter={p.yFmt}
        />
        <Scatter data={p.teal} fill={TEAL} shape={dot(TEAL)} isAnimationActive={false} />
        <Scatter data={p.red} fill={SALMON} shape={dot(SALMON)} isAnimationActive={false} />
        <ReferenceLine y={1.3} stroke="#1A1A1A" strokeWidth={1.2} />
      </ScatterChart>
    </div>
  );
}

export default function App() {
  return (
    <div style={{ position: 'absolute', left: 0, top: 0, width: 675, height: 419, background: '#FFFFFF', overflow: 'hidden' }}>
      {panels.map((p) => (
        <Panel key={p.title} p={p} />
      ))}
      <svg width={675} height={419} style={{ position: 'absolute', left: 0, top: 0, pointerEvents: 'none' }}>
        {panels.map((p) => (
          <g key={p.title}>
            <text x={p.tx} y={p.ty} textAnchor="middle" fontFamily="Liberation Serif, Times New Roman, serif" fontWeight="bold" fontSize={17.5} fill="#000">
              {p.title}
            </text>
            <text x={p.xlx} y={p.xly} textAnchor="middle" fontFamily="Liberation Sans, Arial, sans-serif" fontSize={12} fill="#000">
              log2 fold change
            </text>
            <text transform={`translate(${p.ylx},${p.yly}) rotate(-90)`} textAnchor="middle" fontFamily="Liberation Sans, Arial, sans-serif" fontSize={12} fill="#000">
              -log10 q-value
            </text>
          </g>
        ))}
      </svg>
    </div>
  );
}
